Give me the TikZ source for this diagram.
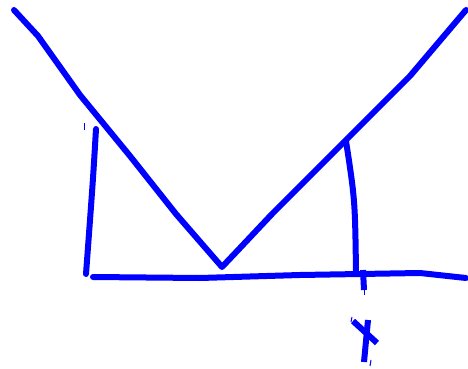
\documentclass[tikz,border=0pt]{standalone}
\begin{document}
\begin{tikzpicture}[x=1pt,y=-1pt,
  pen/.style={draw=blue,line width=6pt,line cap=round,line join=round},
  thin/.style={draw=blue,line width=1pt}]
\useasboundingbox (0,0) rectangle (468,369);
% V
\coordinate (vl) at (14,10);
\coordinate (vb) at (222,267);
\coordinate (vr) at (466,10);
\draw[pen] (vl) -- (38,36) -- (80,95) -- (130,156) -- (176,214) -- (vb) -- (240,248) -- (272,214) -- (345,141) -- (410,76) -- (vr);
% left vertical
\coordinate (lt) at (96,129);
\coordinate (lb) at (86,274);
\draw[pen] (lt) .. controls (93,180) .. (lb);
\draw[thin] (84,123) -- (84,130);
% baseline
\coordinate (b1) at (93,277);
\coordinate (b2) at (466,278);
\draw[pen] (b1) -- (200,278) -- (300,275) -- (420,273) -- (b2);
% right vertical
\coordinate (rt) at (346,141);
\coordinate (rb) at (356,272);
\draw[pen] (rt) .. controls (355,200) .. (rb);
\draw[pen,line cap=butt] (363,270) -- (364,290);
\draw[thin] (364,288) -- (364,295);
% x
\coordinate (x1) at (353,321);
\coordinate (x2) at (377,343);
\coordinate (x3) at (368,320);
\coordinate (x4) at (364,362);
\draw[pen,line cap=butt] (x1) -- (x2);
\draw[pen,line cap=butt] (x3) -- (x4);
\draw[thin] (352,317) -- (351,322);
\draw[thin] (371,360) -- (370,366);
\end{tikzpicture}
\end{document}
